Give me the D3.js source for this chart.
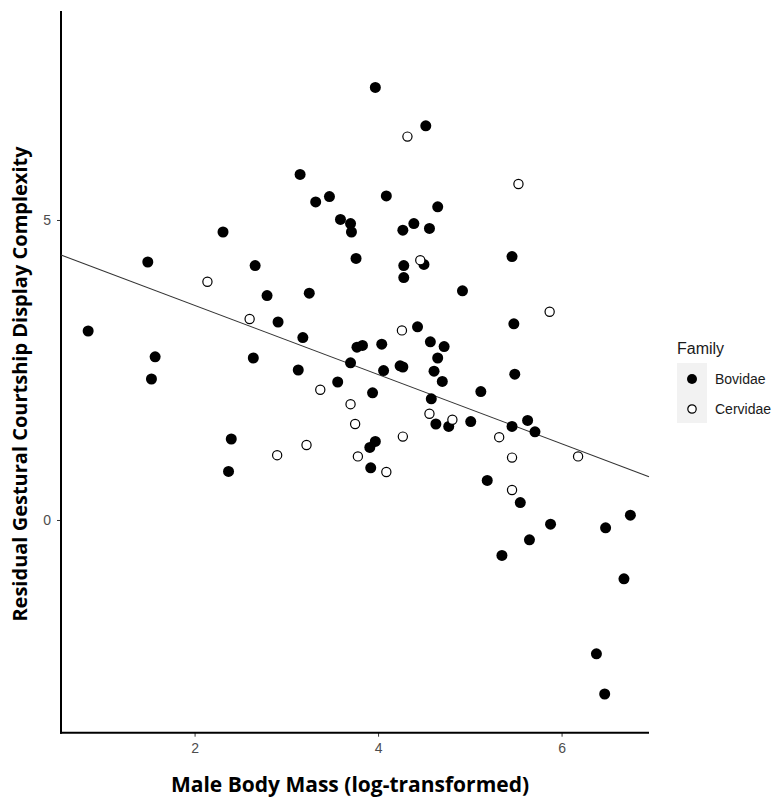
<!DOCTYPE html>
<html>
<head>
<meta charset="utf-8">
<script src="https://cdn.jsdelivr.net/npm/d3@7"></script>
<style>
  body { margin: 0; background: #fff; }
  .tick text { font-family: "Liberation Sans", Arial, sans-serif; font-size: 14px; fill: #4d4d4d; }
  .tick line { stroke: #333; }
  .axis-line { stroke: #000; stroke-width: 2; }
  .axis-title { font-family: "Open Sans", sans-serif; font-weight: bold; fill: #000; }
  .legend text { font-family: "Liberation Sans", Arial, sans-serif; }
</style>
</head>
<body>
<div class="chart"></div>
<script>
// Bovidae (filled) points: log body mass, residual display complexity
const bovidaeX = [0.84, 1.49, 1.57, 1.53, 2.31, 2.66, 2.79, 2.64, 2.40, 2.37,
  3.97, 3.15, 3.32, 3.47, 3.59, 3.70, 3.71, 3.76, 4.09, 3.25,
  2.91, 3.18, 3.77, 3.83, 4.04, 3.70, 3.13, 4.06, 4.24, 4.27,
  3.56, 3.94, 3.97, 3.91, 3.92, 4.52, 4.65, 4.39, 4.27, 4.56,
  5.46, 4.50, 4.28, 4.28, 4.92, 5.48, 4.43, 4.57, 4.72, 4.65,
  4.61, 4.70, 5.49, 5.12, 4.58, 4.63, 4.77, 5.01, 5.46, 5.63,
  5.71, 5.19, 5.55, 5.88, 5.65, 5.35, 6.48, 6.75, 6.68, 6.38, 6.47];
const bovidaeY = [3.15, 4.30, 2.72, 2.35, 4.80, 4.24, 3.74, 2.70, 1.35, 0.81,
  7.21, 5.76, 5.30, 5.39, 5.01, 4.94, 4.80, 4.36, 5.40, 3.78,
  3.30, 3.04, 2.88, 2.91, 2.93, 2.62, 2.50, 2.49, 2.57, 2.55,
  2.30, 2.12, 1.31, 1.21, 0.87, 6.57, 5.22, 4.94, 4.83, 4.86,
  4.39, 4.26, 4.24, 4.04, 3.82, 3.27, 3.22, 2.97, 2.89, 2.70,
  2.48, 2.31, 2.43, 2.14, 2.02, 1.60, 1.56, 1.64, 1.56, 1.66,
  1.47, 0.66, 0.29, -0.07, -0.33, -0.59, -0.13, 0.08, -0.98, -2.23, -2.90];

// Cervidae (open) points
const cervidaeX = [2.14, 2.60, 2.90, 3.22, 3.37, 3.70, 3.75, 3.78, 4.09, 4.27,
  4.26, 4.32, 4.46, 4.56, 4.81, 5.32, 5.46, 5.46, 5.53, 5.87, 6.18];
const cervidaeY = [3.97, 3.35, 1.08, 1.25, 2.17, 1.93, 1.60, 1.06, 0.80, 1.39,
  3.16, 6.39, 4.33, 1.77, 1.67, 1.38, 1.04, 0.50, 5.60, 3.47, 1.06];

// fitted line y = a + b*x
const fitIntercept = 4.731;
const fitSlope = -0.5766;

const xTicks = [2, 4, 6];
const yTicks = [0, 5];
const families = ["Bovidae", "Cervidae"];

const W = 778, H = 799;
const plot = {left: 61, right: 649, top: 11, bottom: 732.7};

const svg = d3.select(".chart").append("svg")
  .attr("width", W)
  .attr("height", H);

const x = d3.scaleLinear().domain([0.544, 6.953]).range([plot.left, plot.right]);
const y = d3.scaleLinear().domain([-3.545, 8.483]).range([plot.bottom, plot.top]);

// axes (ticks only, axis lines drawn below)
svg.append("g")
  .attr("class", "axis x-axis")
  .attr("transform", "translate(0," + plot.bottom + ")")
  .call(d3.axisBottom(x).tickValues(xTicks).tickSize(4).tickPadding(6).tickFormat(d3.format("d")))
  .call(g => g.select(".domain").remove());

svg.append("g")
  .attr("class", "axis y-axis")
  .attr("transform", "translate(" + plot.left + ",0)")
  .call(d3.axisLeft(y).tickValues(yTicks).tickSize(4).tickPadding(6).tickFormat(d3.format("d")))
  .call(g => g.select(".domain").remove());

svg.append("line").attr("class", "axis-line")
  .attr("x1", plot.left).attr("x2", plot.left)
  .attr("y1", plot.top).attr("y2", plot.bottom + 1);
svg.append("line").attr("class", "axis-line")
  .attr("x1", plot.left - 1).attr("x2", plot.right)
  .attr("y1", plot.bottom).attr("y2", plot.bottom);

// regression line
const xd = x.domain();
svg.append("line")
  .attr("x1", x(xd[0])).attr("y1", y(fitIntercept + fitSlope * xd[0]))
  .attr("x2", x(xd[1])).attr("y2", y(fitIntercept + fitSlope * xd[1]))
  .attr("stroke", "#333")
  .attr("stroke-width", 1.1);

// points
const bov = bovidaeX.map((v, i) => ({x: v, y: bovidaeY[i]}));
const cer = cervidaeX.map((v, i) => ({x: v, y: cervidaeY[i]}));

svg.append("g").selectAll("circle")
  .data(bov).enter().append("circle")
  .attr("cx", d => x(d.x)).attr("cy", d => y(d.y))
  .attr("r", 5.5).attr("fill", "#000");

svg.append("g").selectAll("circle")
  .data(cer).enter().append("circle")
  .attr("cx", d => x(d.x)).attr("cy", d => y(d.y))
  .attr("r", 4.6).attr("fill", "#fff")
  .attr("stroke", "#000").attr("stroke-width", 1.2);

// axis titles
svg.append("text")
  .attr("class", "axis-title")
  .attr("x", 350).attr("y", 792)
  .attr("font-size", 21)
  .attr("text-anchor", "middle")
  .text("Male Body Mass (log-transformed)");

svg.append("text")
  .attr("class", "axis-title")
  .attr("font-size", 20)
  .attr("transform", "translate(27,384) rotate(-90)")
  .attr("text-anchor", "middle")
  .text("Residual Gestural Courtship Display Complexity");

// legend
const legend = svg.append("g").attr("class", "legend").attr("transform", "translate(677,363)");
legend.append("text")
  .attr("x", 0).attr("y", -9)
  .attr("font-size", 16).attr("fill", "#1a1a1a")
  .text("Family");

const keys = legend.selectAll("g.key").data(families).enter().append("g")
  .attr("class", "key")
  .attr("transform", (d, i) => "translate(0," + i * 30 + ")");

keys.append("rect")
  .attr("width", 30).attr("height", 30).attr("fill", "#f2f2f2");

keys.append("circle")
  .attr("cx", 15).attr("cy", 16)
  .attr("r", (d, i) => i === 0 ? 5 : 4.2)
  .attr("fill", (d, i) => i === 0 ? "#000" : "#fff")
  .attr("stroke", "#000")
  .attr("stroke-width", (d, i) => i === 0 ? 0 : 1.2);

keys.append("text")
  .attr("x", 38).attr("y", 16)
  .attr("dy", "0.35em")
  .attr("font-size", 14).attr("fill", "#1a1a1a")
  .text(d => d);
</script>
</body>
</html>
